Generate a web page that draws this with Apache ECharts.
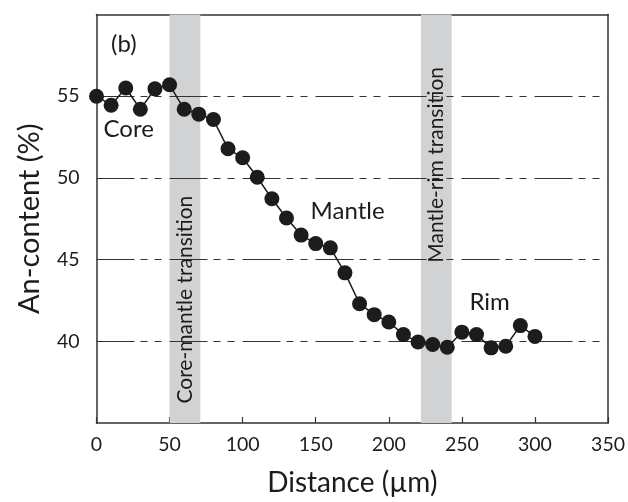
<!DOCTYPE html>
<html>
<head>
<meta charset="utf-8">
<script src="https://cdn.jsdelivr.net/npm/echarts@6/dist/echarts.min.js"></script>
<style>
  html, body { margin: 0; padding: 0; background: #fff; }
  #chart { width: 628px; height: 502px; }
</style>
</head>
<body>
<div id="chart"></div>
<script>
// profile along the traverse
const distance = [0, 10, 20, 30, 40, 50, 60, 70, 80, 90, 100, 110, 120, 130, 140, 150,
  160, 170, 180, 190, 200, 210, 220, 230, 240, 250, 260, 270, 280, 290, 300];
const anContent = [55.0, 54.45, 55.5, 54.2, 55.45, 55.7, 54.2, 53.9, 53.57, 51.78, 51.23,
  50.04, 48.72, 47.55, 46.5, 45.98, 45.72, 44.19, 42.3, 41.63, 41.18, 40.41, 39.96, 39.8,
  39.64, 40.56, 40.41, 39.6, 39.7, 40.96, 40.3];

// shaded transition zones [from, to] in µm
const bands = [[50, 71], [222, 243]];

// annotations: text, x, y, rotation
const noteText = ['(b)', 'Core', 'Mantle', 'Rim', 'Core-mantle transition', 'Mantle-rim transition'];
const noteX = [18.7, 22, 171.8, 269, 60.9, 232.3];
const noteY = [58.16, 52.96, 47.93, 42.36, 42.55, 50.8];
const noteRot = [0, 0, 0, 0, 90, 90];

const xTicks = [0, 50, 100, 150, 200, 250, 300, 350];
const yTicks = [40, 45, 50, 55];

const font = 'Lato, "Open Sans", sans-serif';
const ink = '#1c1c1c';

const chart = echarts.init(document.getElementById('chart'));

const option = {
  animation: false,
  textStyle: { fontFamily: font },
  grid: { left: 96.5, right: 17, top: 14.5, bottom: 79 },
  xAxis: [{
    type: 'value', min: 0, max: 350, interval: 50,
    name: 'Distance (µm)', nameLocation: 'middle', nameGap: 46,
    nameTextStyle: { fontSize: 28, color: ink, fontFamily: font },
    axisLine: { show: true, lineStyle: { color: '#333', width: 1.5 } },
    axisTick: { show: true, inside: true, length: 6, lineStyle: { color: '#333', width: 1.2 } },
    axisLabel: { fontSize: 19.5, color: ink, margin: 12,
      formatter: v => xTicks.includes(v) ? String(v) : '' },
    splitLine: { show: false }
  }, {
    type: 'value', min: 0, max: 350, position: 'top',
    axisLine: { show: true, onZero: false, lineStyle: { color: '#333', width: 1.5 } },
    axisTick: { show: false }, axisLabel: { show: false }, splitLine: { show: false }
  }],
  yAxis: [{
    type: 'value', min: 35, max: 60, interval: 5,
    name: 'An-content (%)', nameLocation: 'middle', nameGap: 52, nameRotate: 90,
    nameTextStyle: { fontSize: 29, color: ink, fontFamily: font },
    axisLine: { show: true, lineStyle: { color: '#333', width: 1.5 } },
    axisTick: { show: false },
    axisLabel: { fontSize: 19.5, color: ink, margin: 17,
      formatter: v => yTicks.includes(v) ? String(v) : '' },
    splitLine: { show: false }
  }, {
    type: 'value', min: 35, max: 60, position: 'right',
    axisLine: { show: true, onZero: false, lineStyle: { color: '#333', width: 1.5 } },
    axisTick: { show: false }, axisLabel: { show: false }, splitLine: { show: false }
  }],
  series: [
    {
      // shaded zones + dash-dot reference lines
      type: 'line', data: [], silent: true,
      markArea: {
        silent: true,
        itemStyle: { color: '#d1d2d4' },
        data: bands.map(b => [{ xAxis: b[0] }, { xAxis: b[1] }])
      },
      markLine: {
        silent: true, symbol: 'none', label: { show: false },
        lineStyle: { color: '#333', width: 1.2, type: [38, 6, 7, 7, 7, 8] },
        data: yTicks.map(v => ({ yAxis: v }))
      }
    },
    {
      type: 'line', z: 5,
      data: distance.map((d, i) => [d, anContent[i]]),
      symbol: 'circle', symbolSize: 15,
      itemStyle: { color: ink },
      lineStyle: { color: ink, width: 1.5 }
    },
    {
      type: 'scatter', z: 6, symbolSize: 0, silent: true,
      itemStyle: { opacity: 1 },
      data: noteText.map((t, i) => ({
        value: [noteX[i], noteY[i]],
        label: { rotate: noteRot[i], fontSize: noteRot[i] ? 21 : 24 },
        name: t
      })),
      label: {
        show: true, position: 'inside', formatter: p => p.name,
        color: ink, fontFamily: font
      }
    }
  ]
};

chart.setOption(option);
</script>
</body>
</html>
